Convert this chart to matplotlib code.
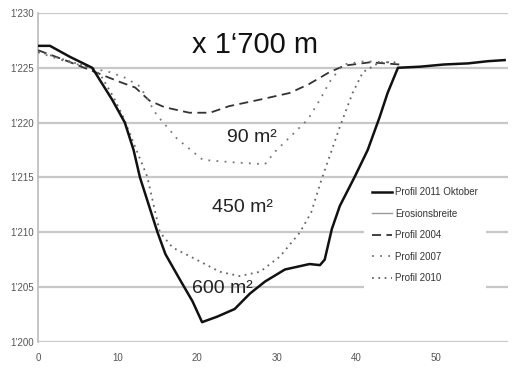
import matplotlib
matplotlib.use("Agg")
import matplotlib.pyplot as plt
from matplotlib.lines import Line2D
from matplotlib.ticker import FuncFormatter

plt.rcParams['font.family'] = ['Liberation Sans', 'DejaVu Sans']

# Profil 2011 Oktober (solid)
x2011 = [0, 1.5, 4, 6.8, 9.3, 10.9, 12.0, 12.8, 13.9, 15, 16, 17.8, 19.4, 20.6, 22.5, 24.7, 26.6, 28.5,
         31, 34.1, 35.4, 36, 36.9, 37.9, 39.8, 41.4, 42.9, 43.9, 45.2, 48, 51, 54, 56.5, 58.6]
y2011 = [1227, 1227, 1226, 1225, 1222.1, 1220, 1217.5, 1215, 1212.5, 1210, 1208, 1205.7, 1203.7, 1201.8,
         1202.3, 1203, 1204.4, 1205.5, 1206.6, 1207.1, 1207, 1207.5, 1210.3, 1212.4, 1215.1, 1217.5,
         1220.5, 1222.7, 1225, 1225.1, 1225.3, 1225.4, 1225.6, 1225.7]

# Profil 2004 (dashed)
x2004 = [0, 3, 6.5, 10.3, 12.2, 14, 15.9, 19, 21.6, 24, 27.9, 31.6, 34, 36.6, 38.5, 41.7, 45.4]
y2004 = [1226.6, 1225.8, 1224.8, 1223.7, 1223.2, 1222, 1221.4, 1220.9, 1220.9, 1221.5, 1222.1,
         1222.7, 1223.5, 1224.6, 1225.2, 1225.5, 1225.3]

# Profil 2007 (dotted, inner)
x2007 = [0, 3, 6.5, 9, 10.9, 12.8, 14.9, 17.5, 20.7, 24.1, 28.5, 29.7, 31.8, 33.9, 35.5, 36.6, 38.3, 41, 44]
y2007 = [1226.4, 1225.7, 1225.0, 1224.6, 1224.1, 1223.3, 1220.7, 1218.5, 1216.6, 1216.4, 1216.2,
         1217.3, 1218.8, 1220.3, 1222.2, 1223.7, 1225.3, 1225.6, 1225.5]

# Profil 2010 (dotted, middle)
x2010 = [0, 3, 6.6, 7.8, 9.5, 10.7, 12.3, 13.7, 15.3, 16.9, 19.9, 22.8, 25.3, 27.9, 30.4, 32.9, 34.3,
         35.6, 37.9, 39.5, 40.8, 42.9, 45]
y2010 = [1226.5, 1225.8, 1225.0, 1224.4, 1222.3, 1220.5, 1217.6, 1215.1, 1210, 1208.6, 1207.5, 1206.4,
         1206, 1206.4, 1207.8, 1210, 1211.8, 1214.8, 1219.6, 1222.7, 1224.6, 1225.5, 1225.5]

yticks = [1200, 1205, 1210, 1215, 1220, 1225, 1230]
xticks = [0, 10, 20, 30, 40, 50]

fig = plt.figure(figsize=(5.14, 3.70), dpi=100)
ax = fig.add_axes([0.074, 0.076, 0.914, 0.889])

for yt in yticks:
    ax.axhline(yt, color='#c8c8c8', lw=1.6, zorder=0)

ax.plot(x2011, y2011, color='#111111', lw=1.8, solid_joinstyle='round', zorder=4)
ax.plot(x2004, y2004, color='#333333', lw=1.3, dashes=(5, 3), zorder=3)
ax.plot(x2007, y2007, color='#777777', lw=1.3, dashes=(1, 3.5), zorder=3)
ax.plot(x2010, y2010, color='#666666', lw=1.3, dashes=(1, 2.5), zorder=3)

ax.set_xlim(0, 59)
ax.set_ylim(1200, 1230)
ax.set_xticks(xticks)
ax.set_yticks(yticks)
ax.yaxis.set_major_formatter(FuncFormatter(lambda v, p: f"1\u2019{int(v) - 1000:03d}"))
ax.tick_params(axis='both', labelsize=7, colors='#555555', length=0)
ax.tick_params(axis='y', pad=3)
ax.tick_params(axis='x', pad=8)
for s in ['top', 'right', 'bottom']:
    ax.spines[s].set_visible(False)
ax.spines['left'].set_color('#bbbbbb')
ax.spines['left'].set_linewidth(1.2)

ax.text(27.2, 1227.1, "x 1\u2018700 m", fontsize=21, ha='center', va='center', color='#111111', zorder=5)
ax.text(26.9, 1218.6, "90 m\u00b2", fontsize=14, ha='center', va='center', color='#222222', zorder=5)
ax.text(25.7, 1212.3, "450 m\u00b2", fontsize=14, ha='center', va='center', color='#222222', zorder=5)
ax.text(23.1, 1204.9, "600 m\u00b2", fontsize=14, ha='center', va='center', color='#222222', zorder=5)

handles = [
    Line2D([], [], color='#111111', lw=1.8),
    Line2D([], [], color='#999999', lw=1.0),
    Line2D([], [], color='#333333', lw=1.3, dashes=(5, 3)),
    Line2D([], [], color='#777777', lw=1.3, dashes=(1, 3.5)),
    Line2D([], [], color='#666666', lw=1.3, dashes=(1, 2.5)),
]
labels = ["Profil 2011 Oktober", "Erosionsbreite", "Profil 2004", "Profil 2007", "Profil 2010"]
leg = ax.legend(handles, labels, loc='upper left', bbox_to_anchor=(0.694, 0.494), fontsize=7,
                frameon=True, facecolor='white', edgecolor='none', framealpha=1,
                handlelength=2.1, handletextpad=0.3, labelspacing=1.18, borderpad=0.8,
                borderaxespad=0, labelcolor='#333333')
leg.set_zorder(6)

fig.savefig("out.png", dpi=100, facecolor='white')
